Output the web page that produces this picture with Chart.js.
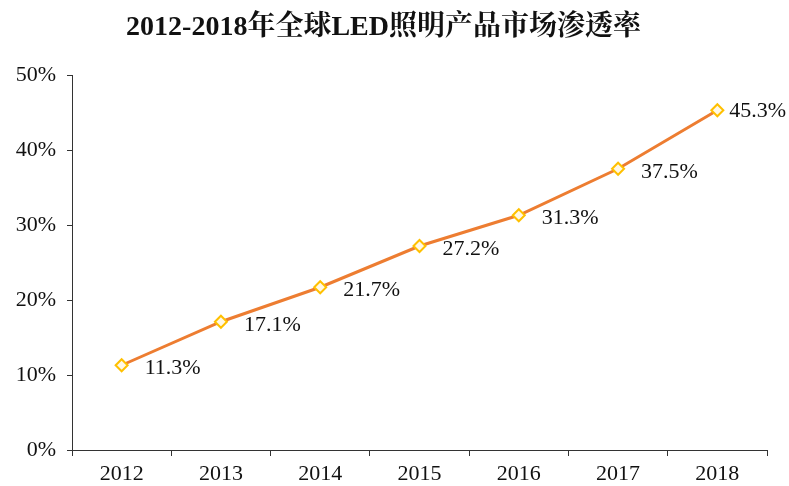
<!DOCTYPE html>
<html>
<head>
<meta charset="utf-8">
<script src="https://cdn.jsdelivr.net/npm/chart.js@4.4.0/dist/chart.umd.min.js"></script>
<style>
  html, body { margin: 0; padding: 0; background: #fff; }
  #wrap { width: 789px; height: 486px; }
</style>
</head>
<body>
<div id="wrap"><canvas id="penetrationChart"></canvas></div>
<script>
const years = ['2012', '2013', '2014', '2015', '2016', '2017', '2018'];
const penetration = [11.3, 17.1, 21.7, 27.2, 31.3, 37.5, 45.3];

const serif = '"Liberation Serif", "Times New Roman", "Noto Serif CJK SC", "Noto Sans CJK SC", serif';

// draws the value next to each point
const valueLabels = {
    id: 'valueLabels',
    afterDatasetsDraw(chart) {
        const ctx = chart.ctx;
        const meta = chart.getDatasetMeta(0);
        const last = meta.data.length - 1;
        ctx.save();
        ctx.font = '22px ' + serif;
        ctx.fillStyle = '#111';
        ctx.textAlign = 'left';
        ctx.textBaseline = 'middle';
        meta.data.forEach((pt, i) => {
            const dx = i === last ? 12 : 23;
            const dy = i === last ? 1 : 3;
            ctx.fillText(penetration[i].toFixed(1) + '%', pt.x + dx, pt.y + dy);
        });
        ctx.restore();
    }
};

const ctx = document.getElementById('penetrationChart').getContext('2d');
new Chart(ctx, {
    type: 'line',
    data: {
        labels: years,
        datasets: [{
            data: penetration,
            borderColor: '#ED7D31',
            borderWidth: 3,
            pointStyle: 'rectRot',
            pointRadius: 6,
            pointBorderWidth: 2,
            pointBorderColor: '#FFC000',
            pointBackgroundColor: '#FFF8E6',
            tension: 0
        }]
    },
    options: {
        responsive: true,
        maintainAspectRatio: false,
        animation: false,
        layout: { padding: { top: 0, right: 22, bottom: 0, left: 0 } },
        plugins: {
            legend: { display: false },
            tooltip: { enabled: false },
            title: {
                display: true,
                text: '2012-2018年全球LED照明产品市场渗透率',
                color: '#111',
                font: { family: serif, size: 28, weight: 'bold', lineHeight: 1.2 },
                padding: { top: 11, bottom: 30.4 }
            }
        },
        scales: {
            x: {
                offset: true,
                grid: { offset: true, drawOnChartArea: false, drawTicks: true, tickLength: 6, color: '#333' },
                border: { color: '#333', width: 1 },
                ticks: { color: '#111', font: { family: serif, size: 22 }, padding: 5 },
                afterFit(scale) { scale.height = 36; }
            },
            y: {
                min: 0,
                max: 50,
                ticks: {
                    stepSize: 10,
                    color: '#111',
                    font: { family: serif, size: 22 },
                    padding: 11,
                    callback: v => v + '%'
                },
                grid: { drawOnChartArea: false, drawTicks: true, tickLength: 5, color: '#333' },
                border: { color: '#333', width: 1 },
                afterFit(scale) { scale.width = 72; }
            }
        }
    },
    plugins: [valueLabels]
});
</script>
</body>
</html>
